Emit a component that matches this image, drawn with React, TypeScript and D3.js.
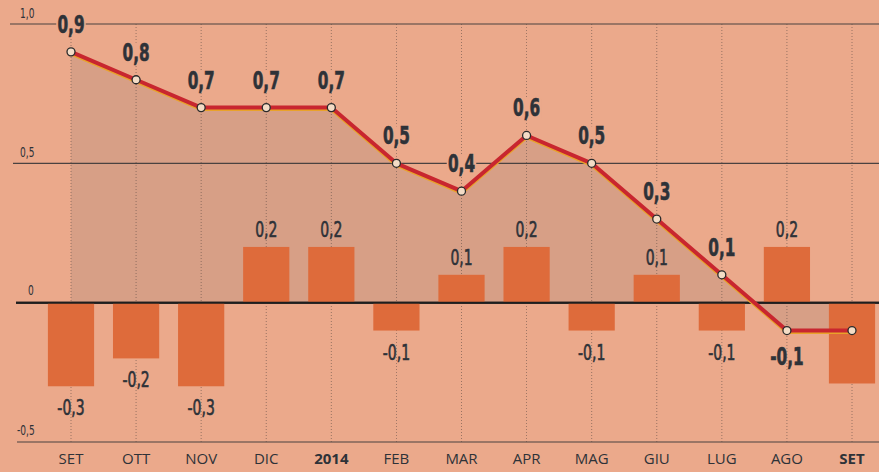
import React, { useRef, useEffect } from "react";
import * as d3 from "d3";

// mesi (etichette asse x)
const months = ["SET", "OTT", "NOV", "DIC", "2014", "FEB", "MAR", "APR", "MAG", "GIU", "LUG", "AGO", "SET "];
const boldMonths = ["2014", "SET "];

// variazione tendenziale (linea)
const lineValues = [0.9, 0.8, 0.7, 0.7, 0.7, 0.5, 0.4, 0.6, 0.5, 0.3, 0.1, -0.1, -0.1];

// variazione congiunturale (barre)
const barValues = [-0.3, -0.2, -0.3, 0.2, 0.2, -0.1, 0.1, 0.2, -0.1, 0.1, -0.1, 0.2, -0.29];
const barLabels = ["-0,3", "-0,2", "-0,3", "0,2", "0,2", "-0,1", "0,1", "0,2", "-0,1", "0,1", "-0,1", "0,2", ""];

const yTicks = [1.0, 0.5, 0, -0.5];
const yTickLabels = ["1,0", "0,5", "0", "-0,5"];

const fmt = (v: number) => v.toFixed(1).replace(".", ",");

const W = 879;
const H = 472;
const BG = "#eba98b";
const INK = "#2e3238";

const App = () => {
    const svgRef = useRef<SVGSVGElement>(null);

    useEffect(() => {
        const svg = d3.select(svgRef.current);
        svg.selectAll("*").remove(); // pulizia prima del render

        const x = d3.scalePoint<string>().domain(months).range([71, 852]);
        const y = d3.scaleLinear().domain([-0.5, 1.0]).range([442, 24]);
        const step = x.step();
        const barW = step * 0.71;

        svg.append("rect").attr("width", W).attr("height", H).attr("fill", BG);

        // area sotto la linea
        const pts = months.map((m, i) => ({ m, v: lineValues[i] }));
        const area = d3
            .area<{ m: string; v: number }>()
            .x(d => x(d.m)!)
            .y0(y(0))
            .y1(d => y(d.v));
        svg.append("path").attr("d", area(pts)).attr("fill", "#a8897a").attr("opacity", 0.3);

        // griglia orizzontale
        const gridStart = [10, 13, 16, 17];
        yTicks.forEach((t, i) => {
            svg.append("line")
                .attr("x1", gridStart[i])
                .attr("x2", W)
                .attr("y1", y(t))
                .attr("y2", y(t))
                .attr("stroke", t === 0 ? "#1e1e1e" : "#4a4240")
                .attr("stroke-width", t === 0 ? 2 : 1.1);
        });

        // griglia verticale tratteggiata
        svg.append("g")
            .selectAll("line")
            .data(months)
            .enter()
            .append("line")
            .attr("x1", d => x(d)!)
            .attr("x2", d => x(d)!)
            .attr("y1", y(1.0))
            .attr("y2", y(-0.5))
            .attr("stroke", "#5a4a44")
            .attr("stroke-width", 0.8)
            .attr("stroke-dasharray", "1,2")
            .attr("opacity", 0.7);

        // etichette asse y
        const tickX = [20, 20, 28, 17];
        const tickDy = [-6, -6, -8, -7];
        yTicks.forEach((t, i) => {
            svg.append("text")
                .attr("transform", `translate(${tickX[i]},${y(t) + tickDy[i]}) scale(0.72,1)`)
                .attr("font-family", "DejaVu Sans Condensed")
                .attr("font-size", 14)
                .attr("fill", INK)
                .text(yTickLabels[i]);
        });

        // barre
        svg.append("g")
            .selectAll("rect")
            .data(barValues)
            .enter()
            .append("rect")
            .attr("x", (d, i) => x(months[i])! - barW / 2)
            .attr("width", barW)
            .attr("y", d => Math.min(y(d), y(0)))
            .attr("height", d => Math.abs(y(d) - y(0)))
            .attr("fill", "#de6b3b");

        // linea dello zero sopra le barre
        svg.append("line")
            .attr("x1", gridStart[2])
            .attr("x2", W)
            .attr("y1", y(0))
            .attr("y2", y(0))
            .attr("stroke", "#1e1e1e")
            .attr("stroke-width", 2);

        // etichette barre
        barValues.forEach((v, i) => {
            if (!barLabels[i]) return;
            const ty = v >= 0 ? y(v) - 10 : y(v) + 29;
            svg.append("text")
                .attr("transform", `translate(${x(months[i])},${ty}) scale(0.74,1)`)
                .attr("text-anchor", "middle")
                .attr("font-family", "DejaVu Sans Condensed")
                .attr("font-size", 21)
                .attr("fill", INK)
                .attr("stroke", INK)
                .attr("stroke-width", 0.6)
                .text(barLabels[i]);
        });

        // linea
        const line = d3
            .line<{ m: string; v: number }>()
            .x(d => x(d.m)!)
            .y(d => y(d.v));
        svg.append("path")
            .attr("d", line(pts))
            .attr("fill", "none")
            .attr("stroke", "#e9a22a")
            .attr("stroke-width", 4)
            .attr("transform", "translate(0,1.5)");
        svg.append("path")
            .attr("d", line(pts))
            .attr("fill", "none")
            .attr("stroke", "#c8262f")
            .attr("stroke-width", 4)
            .attr("stroke-linejoin", "round");

        svg.append("g")
            .selectAll("circle")
            .data(pts)
            .enter()
            .append("circle")
            .attr("cx", d => x(d.m)!)
            .attr("cy", d => y(d.v))
            .attr("r", 4)
            .attr("fill", "#f3dcc6")
            .attr("stroke", "#2a2a2a")
            .attr("stroke-width", 1.3);

        // etichette linea (l'ultimo punto non ha etichetta)
        pts.slice(0, -1).forEach((d, i) => {
            const label = fmt(d.v);
            const ty = i === 11 ? y(d.v) + 34 : y(d.v) - 19;
            const lw = label.length * 8.5;
            svg.append("rect")
                .attr("x", x(d.m)! - lw / 2 - 2)
                .attr("y", ty - 18)
                .attr("width", lw + 4)
                .attr("height", 20)
                .attr("fill", i === 11 ? "none" : BG);
            svg.append("text")
                .attr("transform", `translate(${x(d.m)},${ty}) scale(0.68,1)`)
                .attr("text-anchor", "middle")
                .attr("font-family", "DejaVu Sans Condensed")
                .attr("font-weight", "bold")
                .attr("font-size", 25)
                .attr("fill", INK)
                .attr("stroke", INK)
                .attr("stroke-width", 0.6)
                .text(label);
        });

        // etichette mesi
        svg.append("g")
            .selectAll("text")
            .data(months)
            .enter()
            .append("text")
            .attr("x", d => x(d)!)
            .attr("y", 464)
            .attr("text-anchor", "middle")
            .attr("font-family", "Open Sans")
            .attr("font-size", 15)
            .attr("font-weight", d => (boldMonths.includes(d) ? "bold" : "normal"))
            .attr("fill", INK)
            .text(d => d.trim());
    }, []);

    return (
        <div style={{ position: "fixed", left: 0, top: 0, width: W, height: H }}>
            <svg ref={svgRef} width={W} height={H} style={{ display: "block" }}></svg>
        </div>
    );
};

export default App;
